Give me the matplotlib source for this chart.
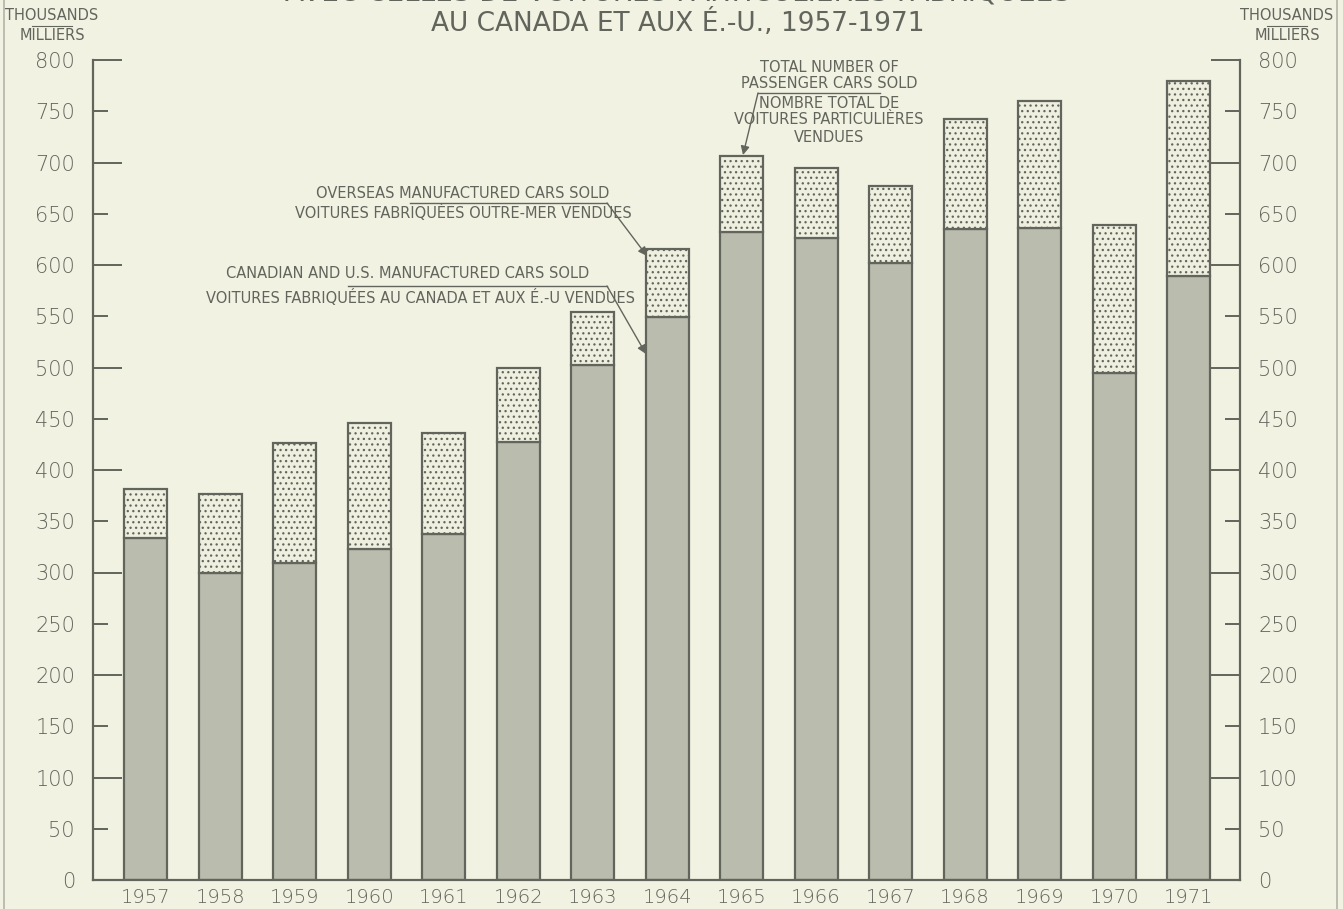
import matplotlib.pyplot as plt
from matplotlib.lines import Line2D

years = ["1957", "1958", "1959", "1960", "1961", "1962", "1963", "1964",
         "1965", "1966", "1967", "1968", "1969", "1970", "1971"]
# thousands of cars
canadian_us = [334, 300, 309, 323, 338, 427, 502, 549, 632, 626, 602, 635, 636, 495, 589]
total = [381, 377, 426, 446, 436, 500, 554, 616, 706, 695, 677, 742, 760, 639, 780]
overseas = [t - c for t, c in zip(total, canadian_us)]

BG = "#f2f2e3"
INK = "#62655c"
SOLID = "#babdad"
NARROW = ["Liberation Sans Narrow", "DejaVu Sans"]

plt.rcParams["hatch.color"] = "#8a8c82"
plt.rcParams["hatch.linewidth"] = 0.9

fig = plt.figure(figsize=(13.43, 9.09), dpi=100, facecolor=BG)
ax = fig.add_axes([93 / 1343, 29 / 909, 1147 / 1343, 820 / 909])
ax.set_facecolor(BG)

x = range(len(years))
ax.bar(x, canadian_us, width=0.58, color=SOLID, edgecolor=INK, linewidth=1.6)
ax.bar(x, overseas, width=0.58, bottom=canadian_us, color="#efefe0",
       edgecolor=INK, linewidth=1.6, hatch="...")

ax.set_xlim(-0.71, 14.69)
ax.set_ylim(0, 800)
ax.set_xticks(list(x))
ax.set_xticklabels(years, fontsize=14, color=INK, fontweight="light")
ax.tick_params(axis="x", length=0, pad=6)

for s in ["left", "right", "bottom"]:
    ax.spines[s].set_color(INK)
    ax.spines[s].set_linewidth(1.6)
ax.spines["top"].set_visible(False)

major = list(range(0, 801, 100))
minor = list(range(50, 800, 100))
ax.set_yticks(major)
ax.set_yticks(minor, minor=True)
ax.set_yticklabels([str(v) for v in major], fontsize=15, color=INK, fontweight="light")
ax.set_yticklabels([str(v) for v in minor], minor=True, fontsize=15, color=INK,
                   fontweight="light")
ax.tick_params(axis="y", which="major", direction="in", length=21, width=1.4,
               color=INK, pad=13, left=True, right=True, labelleft=True, labelright=True)
ax.tick_params(axis="y", which="minor", direction="in", length=11, width=1.4,
               color=INK, pad=13, left=True, right=True, labelleft=True, labelright=True)

# titles (top line is cut off by the scan)
fig.text(0.505, 1.008, "AVEC CELLES DE VOITURES PARTICULIÈRES FABRIQUÉES",
         ha="center", va="center", fontsize=20, color=INK, family=NARROW)
fig.text(0.505, 1 - 23 / 909, "AU CANADA ET AUX É.-U., 1957-1971",
         ha="center", va="center", fontsize=19, color=INK, family=NARROW)

for xc in (52 / 1343, 1287 / 1343):
    fig.text(xc, 1 - 16 / 909, "THOUSANDS", ha="center", va="center",
             fontsize=10.5, color=INK, family=NARROW)
    fig.text(xc, 1 - 36 / 909, "MILLIERS", ha="center", va="center",
             fontsize=10.5, color=INK, family=NARROW)
    fig.add_artist(Line2D([xc - 20 / 1343, xc + 20 / 1343], [1 - 26 / 909] * 2,
                          color=INK, lw=0.8))

# scan border lines
for xe in (4 / 1343, 1337 / 1343):
    fig.add_artist(Line2D([xe, xe], [0, 1], color="#8a8c82", lw=1.2, alpha=0.6))


def px(xp, yp):
    return (xp / 1343, 1 - yp / 909)


def note(lines, xc, ys):
    for t, yp in zip(lines, ys):
        fig.text(xc / 1343, 1 - yp / 909, t, ha="center", va="center", fontsize=10.5,
                 color=INK, family=NARROW)


def pointer(x0, y0, x1, y1):
    ax.annotate("", xy=px(x1, y1), xycoords="figure fraction", xytext=px(x0, y0),
                textcoords="figure fraction",
                arrowprops=dict(arrowstyle="-|>", color=INK, lw=1, mutation_scale=13,
                                shrinkA=0, shrinkB=0))


note(["TOTAL NUMBER OF", "PASSENGER CARS SOLD"], 829, [67, 84])
note(["NOMBRE TOTAL DE", "VOITURES PARTICULIÈRES", "VENDUES"], 829, [103, 120, 137])
fig.add_artist(Line2D([758 / 1343, 880 / 1343], [1 - 93 / 909] * 2, color=INK, lw=1))
pointer(758, 93, 743, 155)

note(["OVERSEAS MANUFACTURED CARS SOLD"], 463, [193])
note(["VOITURES FABRIQUÉES OUTRE-MER VENDUES"], 463, [213])
fig.add_artist(Line2D([410 / 1343, 607 / 1343], [1 - 203 / 909] * 2, color=INK, lw=1))
pointer(607, 203, 647, 256)

note(["CANADIAN AND U.S. MANUFACTURED CARS SOLD"], 408, [274])
note(["VOITURES FABRIQUÉES AU CANADA ET AUX É.-U VENDUES"], 420, [297])
fig.add_artist(Line2D([348 / 1343, 607 / 1343], [1 - 286 / 909] * 2, color=INK, lw=1))
pointer(607, 286, 646, 354)

fig.savefig("out.png", dpi=100, facecolor=BG)
